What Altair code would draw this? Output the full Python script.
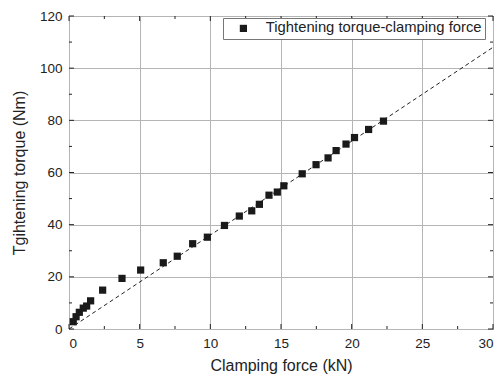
import altair as alt
import pandas as pd

# Data
force = [0.30, 0.50, 0.73, 1.01, 1.25, 1.53, 2.38, 3.75, 5.07, 6.67, 7.66, 8.75, 9.79,
         11.0, 12.05, 12.93, 13.47, 14.15, 14.74, 15.2, 16.5, 17.48, 18.33, 18.9, 19.6,
         20.2, 21.2, 22.25]
torque = [2.8, 4.7, 6.4, 8.0, 8.8, 10.8, 14.9, 19.4, 22.6, 25.4, 27.9, 32.7, 35.2,
          39.7, 43.3, 45.3, 47.8, 51.3, 52.5, 54.9, 59.5, 63.0, 65.6, 68.4, 70.9,
          73.4, 76.5, 79.7]
series_name = "Tightening torque-clamping force"

fit_x = [0, 30]
fit_y = [0, 108]

x_major = [0, 5, 10, 15, 20, 25, 30]
x_minor = [2.5, 7.5, 12.5, 17.5, 22.5, 27.5]
y_major = [0, 20, 40, 60, 80, 100, 120]
y_minor = [10, 30, 50, 70, 90, 110]

W, H = 424, 313
FONT = "Liberation Sans"
TXT = "#222222"

xs = alt.Scale(domain=[0, 30], nice=False, zero=True)
ys = alt.Scale(domain=[0, 120], nice=False, zero=True)

x_axis = alt.Axis(
    title="Clamping force (kN)",
    values=sorted(x_major + x_minor),
    labelExpr="datum.value % 5 === 0 ? datum.label : ''",
    grid=True,
    gridColor={"condition": {"test": "datum.value % 5 !== 0", "value": "#d9d9d9"}, "value": "#b5b5b5"},
    gridDash={"condition": {"test": "datum.value % 5 !== 0", "value": [1, 2]}, "value": []},
    ticks=False, domain=False,
    labelPadding=7, labelFontSize=13.5, labelColor=TXT, labelFont=FONT,
    titleFontSize=16, titleFont=FONT, titleColor=TXT, titleFontWeight="normal", titlePadding=8,
)
y_axis = alt.Axis(
    title="Tgihtening torque (Nm)",
    values=sorted(y_major + y_minor),
    labelExpr="datum.value % 20 === 0 ? datum.label : ''",
    grid=True,
    gridColor={"condition": {"test": "datum.value % 20 !== 0", "value": "#d9d9d9"}, "value": "#b5b5b5"},
    gridDash={"condition": {"test": "datum.value % 20 !== 0", "value": [1, 2]}, "value": []},
    ticks=False, domain=False,
    labelPadding=7, labelFontSize=13.5, labelColor=TXT, labelFont=FONT,
    titleFontSize=16, titleFont=FONT, titleColor=TXT, titleFontWeight="normal", titlePadding=12,
)

legend = alt.Legend(
    title=None, orient="none", legendX=154, legendY=2,
    strokeColor="#777777", fillColor="white", padding=3, cornerRadius=0,
    symbolType="square", symbolSize=52, symbolOffset=10, labelOffset=15,
    labelFontSize=14.8, labelFont=FONT, labelColor=TXT, symbolStrokeWidth=0,
    symbolFillColor="#1a1a1a", labelLimit=400,
)

pts_df = pd.DataFrame({"x": force, "y": torque, "series": [series_name] * len(force)})
fit_df = pd.DataFrame({"x": fit_x, "y": fit_y})

points = alt.Chart(pts_df).mark_point(shape="square", filled=True, size=52, opacity=1).encode(
    x=alt.X("x:Q", scale=xs, axis=x_axis),
    y=alt.Y("y:Q", scale=ys, axis=y_axis),
    color=alt.Color("series:N", scale=alt.Scale(domain=[series_name], range=["#1a1a1a"]),
                    legend=legend),
)

fit = alt.Chart(fit_df).mark_line(color="#222222", strokeDash=[4, 3], strokeWidth=1, clip=True).encode(
    x=alt.X("x:Q", scale=xs),
    y=alt.Y("y:Q", scale=ys),
)


def xticks(vals, length, top):
    df = pd.DataFrame({"x": vals})
    if top:
        y1, y2 = 0, length
    else:
        y1, y2 = H, H - length
    return alt.Chart(df).mark_rule(color="#222222", strokeWidth=1).encode(
        x=alt.X("x:Q", scale=xs), y=alt.value(y1), y2=alt.value(y2))


def yticks(vals, length, right):
    df = pd.DataFrame({"y": vals})
    if right:
        x1, x2 = W, W - length
    else:
        x1, x2 = 0, length
    return alt.Chart(df).mark_rule(color="#222222", strokeWidth=1).encode(
        y=alt.Y("y:Q", scale=ys), x=alt.value(x1), x2=alt.value(x2))


ticks = [
    xticks(x_major, 5, False), xticks(x_minor, 3, False),
    xticks(x_major, 5, True), xticks(x_minor, 3, True),
    yticks(y_major, 5, False), yticks(y_minor, 3, False),
    yticks(y_major, 5, True), yticks(y_minor, 3, True),
]

chart = alt.layer(fit, *ticks, points).properties(
    width=W, height=H,
    background="white",
    autosize=alt.AutoSizeParams(type="none"),
    padding={"left": 61, "top": 8, "right": 1, "bottom": 52},
).configure_view(
    stroke="#222222", strokeWidth=1
)

chart.save("out.html", embed_options={"renderer": "svg", "actions": False})
